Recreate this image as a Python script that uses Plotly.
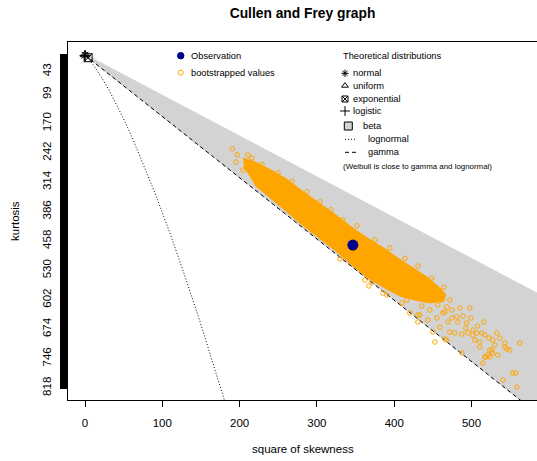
import plotly.graph_objects as go

FONT = "Liberation Sans, Arial, Helvetica, sans-serif"
W, H = 537, 461
ML, MR, MT, MB = 68, 0, 42, 61

# ---------------- data ----------------
kurt_max = 818
y_tick_labels = [43, 99, 170, 242, 314, 386, 458, 530, 602, 674, 746, 818]
x_tick_values = [0, 100, 200, 300, 400, 500]

# observation
obs_skew2 = [346.5]
obs_kurt = [468.0]

# theoretical distributions (points)
theo_names = ["normal", "uniform", "exponential", "logistic"]
theo_skew2 = [0, 0, 4, 0]
theo_kurt = [3, 1.8, 9, 4.2]
theo_symbols = ["asterisk-open", "triangle-up-open", "square-x-open", "cross-thin-open"]

# beta region (light grey polygon)
beta_skew2 = [0, 600, 600, 0]
beta_kurt = [1, 601, 903, 3]

# gamma line
gamma_skew2 = [0, 600]
gamma_kurt = [3, 903]

# lognormal curve
lnorm_skew2 = [0, 0.961, 2.048, 6.125, 10.55, 16.0, 22.58, 30.38, 39.48, 50.0,
               62.02, 75.63, 90.92, 108.0, 126.95, 147.9, 156.8, 170.9, 185.7]
lnorm_kurt = [3, 4.756, 6.85, 15.56, 26.29, 41.0, 60.6, 86.06, 118.5, 159.0,
              208.9, 269.6, 342.4, 429.0, 531.0, 650.1, 702.9, 788.1, 880.8]

# bootstrapped values: dense core outline
boot_core_skew2 = [204.3, 219.8, 239.2, 258.6, 278.0, 300.0, 323.3, 345.2, 365.9, 387.9,
                   407.3, 426.7, 443.5, 459.0, 466.8, 464.2, 446.1, 426.7, 407.3, 387.9,
                   365.9, 345.2, 323.3, 300.0, 278.0, 258.6, 239.2, 221.1, 213.4, 205.6]
boot_core_kurt = [254.7, 264.1, 282.8, 303.4, 331.3, 360.7, 392.5, 424.4, 451.3, 477.2,
                  503.2, 526.7, 547.7, 572.7, 589.8, 605.0, 609.8, 602.5, 592.7, 573.1,
                  548.6, 517.2, 480.5, 446.2, 414.4, 382.5, 351.7, 323.3, 298.8, 276.8]

# bootstrapped values: individual points around the core
boot_skew2 = [190.5, 196.9, 195.2, 204.3, 210.8, 215.9,
              228.9, 249.5, 267.7, 287.0, 303.9, 318.1, 333.6, 351.7, 375.0, 394.4,
              413.8, 430.6, 448.7, 464.2,
              293.5, 329.7, 362.0, 367.2, 371.1, 385.3, 390.5, 403.4, 409.9, 416.3,
              420.2, 430.6, 430.6, 433.2, 443.5,
              450.0, 452.6, 459.0, 460.3, 462.9, 467.7, 467.7, 471.9, 471.9, 474.5,
              478.4, 481.0, 484.9, 487.5, 487.5, 493.9, 495.2, 497.8, 501.7, 501.7,
              504.3, 506.9, 510.7, 510.7, 513.3, 514.6, 517.2, 517.2, 518.5, 521.1,
              523.7, 523.7, 526.3, 527.5, 527.5, 532.7, 540.5, 543.1, 543.1, 545.6,
              553.4, 557.3, 558.6, 562.5, 465.5,
              439.6, 448.7, 456.4, 465.5, 474.5, 482.3, 488.8, 469.4, 455.1, 446.1,
              435.7, 492.6, 499.1, 508.1, 515.9, 522.4, 530.1, 536.6, 549.5, 534.0]
boot_kurt = [231.9, 246.6, 264.5, 284.1, 247.4, 254.7,
             270.1, 291.2, 311.8, 337.3, 361.8, 381.4, 405.9, 420.6, 455.3, 474.9,
             500.8, 519.4, 548.8, 571.3,
             431.1, 502.1, 553.5, 568.2, 558.4, 585.4, 590.3, 570.7, 609.9, 602.5,
             634.3, 639.2, 656.4, 639.2, 651.5,
             680.9, 705.4, 668.6, 602.5, 634.3, 619.6, 700.5, 602.5, 680.9, 646.6,
             683.3, 644.1, 622.1, 685.8, 732.3, 658.8, 683.3, 622.1, 676.0, 688.2,
             700.5, 683.3, 705.4, 717.6, 683.3, 756.8, 688.2, 742.1, 742.1, 737.2,
             725.0, 742.1, 725.0, 732.3, 700.5, 683.3, 798.4, 707.8, 717.6, 722.5,
             781.3, 781.3, 815.6, 707.8, 698.0,
             582.9, 592.7, 614.7, 631.9, 627.0, 656.4, 641.7, 656.4, 646.6, 627.0,
             617.2, 671.1, 646.6, 666.2, 656.4, 695.6, 712.7, 695.6, 725.0, 737.2]

# ---------------- helpers for placing the legend ----------------
PW = W - ML - MR
PH = H - MT - MB


def px2paper(px, py):
    return (px - ML) / PW, (H - MB - py) / PH


GREY = "#D3D3D3"
ORANGE = "#FFA500"
NAVY = "#00008B"

fig = go.Figure()

# beta region
fig.add_trace(go.Scatter(x=beta_skew2, y=beta_kurt, mode="lines", fill="toself",
                         fillcolor=GREY, line=dict(color=GREY, width=1),
                         hoverinfo="skip"))
# lognormal (dotted)
fig.add_trace(go.Scatter(x=lnorm_skew2, y=lnorm_kurt, mode="lines",
                         line=dict(color="black", width=1, dash="1px,2px"),
                         hoverinfo="skip"))
# gamma (dashed)
fig.add_trace(go.Scatter(x=gamma_skew2, y=gamma_kurt, mode="lines",
                         line=dict(color="black", width=1, dash="4px,3px"),
                         hoverinfo="skip"))
# bootstrapped: dense core
fig.add_trace(go.Scatter(x=boot_core_skew2, y=boot_core_kurt, mode="lines", fill="toself",
                         fillcolor=ORANGE, line=dict(color=ORANGE, width=1),
                         hoverinfo="skip"))
# bootstrapped: points
fig.add_trace(go.Scatter(x=boot_skew2, y=boot_kurt, mode="markers",
                         marker=dict(symbol="circle-open", size=4.5, color=ORANGE,
                                     line=dict(width=1, color=ORANGE))))
# observation
fig.add_trace(go.Scatter(x=obs_skew2, y=obs_kurt, mode="markers",
                         marker=dict(symbol="circle", size=11, color=NAVY)))
# theoretical points
for name, sx, ky, sym in zip(theo_names, theo_skew2, theo_kurt, theo_symbols):
    fig.add_trace(go.Scatter(x=[sx], y=[ky], mode="markers", name=name, cliponaxis=False,
                             marker=dict(symbol=sym, size=8, color="black",
                                         line=dict(width=1, color="black"))))

# ---------------- legends (drawn on an overlay 0..1 axis pair) ----------------
leg_items = [
    # (px, py, symbol, size, color, linecolor)
    (180.7, 55.7, "circle", 6.5, NAVY, NAVY),
    (180.7, 72.7, "circle-open", 5, ORANGE, ORANGE),
    (345.0, 73.3, "asterisk-open", 6, "black", "black"),
    (345.0, 85.7, "triangle-up-open", 6, "black", "black"),
    (345.0, 99.0, "square-x-open", 6, "black", "black"),
    (345.0, 111.0, "cross-thin-open", 7, "black", "black"),
    (348.3, 126.0, "square", 8, GREY, "black"),
]
for px, py, sym, sz, col, lc in leg_items:
    u, v = px2paper(px, py)
    fig.add_trace(go.Scatter(x=[u], y=[v], xaxis="x2", yaxis="y2", mode="markers",
                             cliponaxis=False,
                             marker=dict(symbol=sym, size=sz, color=col,
                                         line=dict(width=1, color=lc))))

leg_texts = [
    (189.0, 55.7, "Observation", 9.3),
    (189.0, 72.7, "bootstrapped values", 9.3),
    (341.0, 56.0, "Theoretical distributions", 9.3),
    (350.5, 73.3, "normal", 9.3),
    (350.5, 85.7, "uniform", 9.3),
    (350.5, 99.0, "exponential", 9.3),
    (350.5, 111.0, "logistic", 9.3),
    (360.5, 126.0, "beta", 9.3),
    (365.5, 139.3, "lognormal", 9.3),
    (365.5, 152.3, "gamma", 9.3),
    (341.0, 166.0, "(Weibull is close to gamma and lognormal)", 7.9),
]
annotations = []
for px, py, txt, fs in leg_texts:
    u, v = px2paper(px, py)
    annotations.append(dict(x=u, y=v, xref="paper", yref="paper", text=txt,
                            showarrow=False, xanchor="left", yanchor="middle",
                            font=dict(family=FONT, size=fs, color="black")))

shapes = []
for py, dash in [(139.3, "1px,2px"), (152.3, "4px,3px")]:
    u0, v0 = px2paper(345.0, py)
    u1, _ = px2paper(356.5, py)
    shapes.append(dict(type="line", xref="paper", yref="paper", x0=u0, x1=u1, y0=v0, y1=v0,
                       line=dict(color="black", width=1, dash=dash)))

# axis titles
u, v = px2paper(302.5, 449.0)
annotations.append(dict(x=u, y=v, xref="paper", yref="paper", text="square of skewness",
                        showarrow=False, xanchor="center", yanchor="middle",
                        font=dict(family=FONT, size=11.5, color="black")))
u, v = px2paper(15.0, 221.0)
annotations.append(dict(x=u, y=v, xref="paper", yref="paper", text="kurtosis",
                        showarrow=False, xanchor="center", yanchor="middle", textangle=-90,
                        font=dict(family=FONT, size=11.5, color="black")))

y_tick_vals = list(range(0, kurt_max + 1))
y_tick_text = [str(k) if k in y_tick_labels else "" for k in y_tick_vals]

fig.update_layout(
    width=W, height=H, autosize=False,
    margin=dict(l=ML, r=MR, t=MT, b=MB, pad=0),
    paper_bgcolor="white", plot_bgcolor="white",
    showlegend=False,
    font=dict(family=FONT, color="black"),
    title=dict(text="<b>Cullen and Frey graph</b>", x=0.5, xref="paper", xanchor="center",
               y=1 - 13.3 / H, yref="container", yanchor="middle",
               font=dict(family=FONT, size=13.8, color="black")),
    xaxis=dict(range=[-22.0, 584.7], tickmode="array", tickvals=x_tick_values,
               ticks="outside", ticklen=6, tickwidth=1, tickcolor="black",
               showline=True, linecolor="black", linewidth=1, mirror=True,
               showgrid=False, zeroline=False, layer="below traces",
               tickfont=dict(family=FONT, size=11.5, color="black"),
               ticklabelstandoff=6),
    yaxis=dict(range=[847.4, -29.4], tickmode="array", tickvals=y_tick_vals,
               ticktext=y_tick_text, ticks="outside", ticklen=7, tickwidth=1,
               tickcolor="black", tickangle=-90,
               showline=True, linecolor="black", linewidth=1, mirror=False,
               showgrid=False, zeroline=False,
               tickfont=dict(family=FONT, size=11.5, color="black"),
               ticklabelstandoff=4),
    xaxis2=dict(overlaying="x", anchor="y2", range=[0, 1], visible=False, fixedrange=True),
    yaxis2=dict(overlaying="y", anchor="x2", range=[0, 1], visible=False, fixedrange=True),
    annotations=annotations,
    shapes=shapes,
)

fig.write_html("out.html")
